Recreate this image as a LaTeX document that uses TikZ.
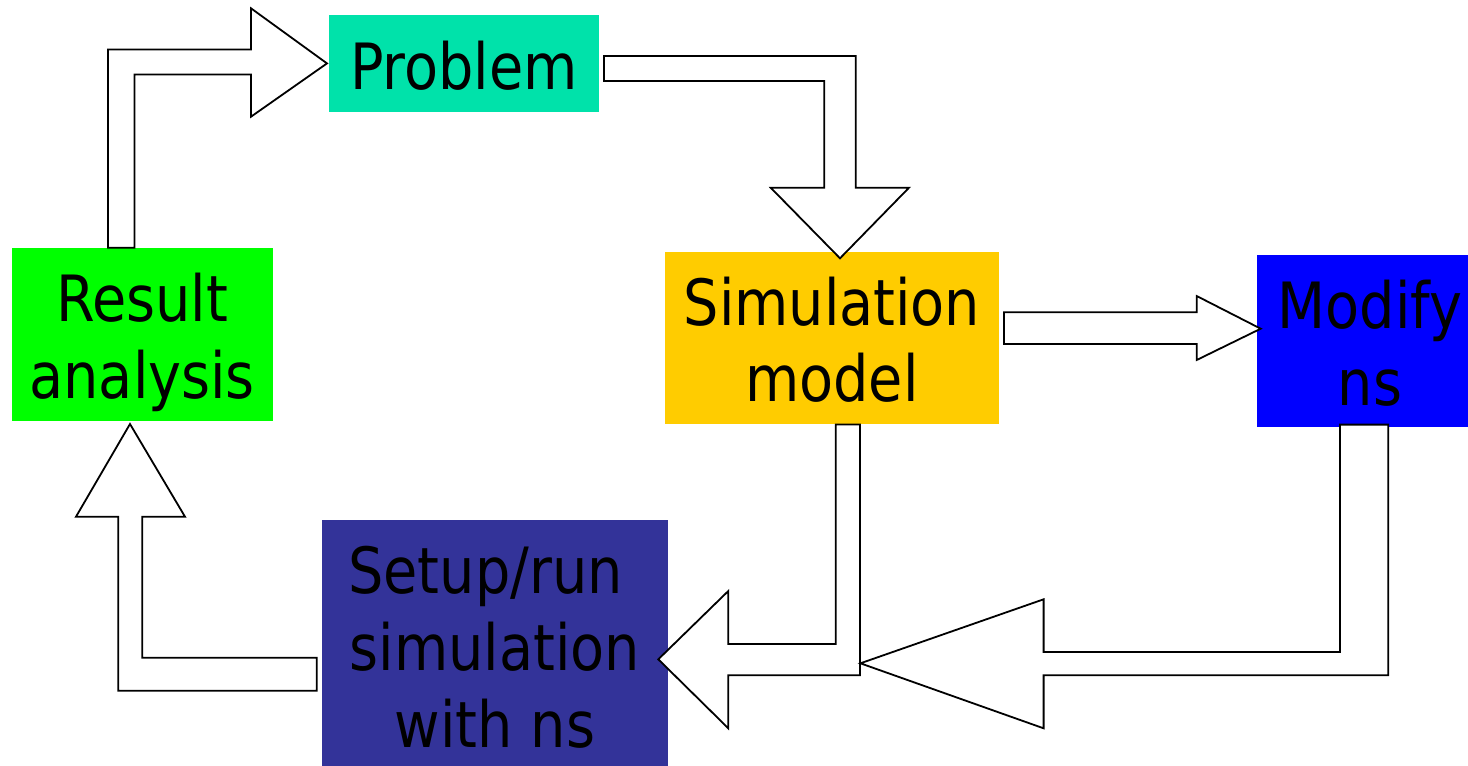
\documentclass[tikz,border=0pt]{standalone}
\usepackage{fontspec}
\setmainfont[FakeStretch=0.97]{DejaVu Sans Condensed}
\usepackage{tikz}
\usetikzlibrary{shapes,arrows}

\definecolor{ProbCol}{RGB}{0,226,170}
\definecolor{ResCol}{RGB}{0,255,0}
\definecolor{SimCol}{RGB}{255,204,0}
\definecolor{ModCol}{RGB}{0,0,255}
\definecolor{RunCol}{RGB}{51,51,153}

% first line high, last line low, so the text sits as in the slide
\newcommand{\linehigh}{\rule{0pt}{66.2pt}}
\newcommand{\linelow}{\rule[-15pt]{0pt}{15pt}}

\begin{document}
\begin{tikzpicture}[x=1pt, y=-1pt]
			\tikzstyle{Box}		= [rectangle, inner sep=0pt, align=center, font=\fontsize{63.8pt}{76.7pt}\selectfont]
			\tikzstyle{Block}	= [draw=black, fill=white, line width=1.8pt, line join=miter]
			\tikzstyle{Prob}	= [fill=ProbCol, minimum width=269.7pt, minimum height=96.7pt]
			\tikzstyle{Res}		= [fill=ResCol, minimum width=260.7pt, minimum height=173pt]
			\tikzstyle{Sim}		= [fill=SimCol, minimum width=334pt, minimum height=172.6pt]
			\tikzstyle{Mod}		= [fill=ModCol, minimum width=225.4pt, minimum height=172.3pt]
			\tikzstyle{Run}		= [fill=RunCol, minimum width=345.4pt, minimum height=250pt]

			\useasboundingbox (0,0) rectangle (1468,766);

			\node (prob) at (464, 63.4) [Box][Prob] {\linehigh Problem\linelow};
			\node (res) at (142.3, 334.5) [Box][Res] {\linehigh Result\\analysis\linelow};
			\node (sim) at (832, 338) [Box][Sim] {\linehigh Simulation\\model\linelow};
			\node (mod) at (1370, 341.2) [Box][Mod] {\linehigh Modify\\ns\linelow};
			\node (run) at (495, 645) [Box][Run] {\linehigh Setup/run\hspace*{19pt}\\simulation\hspace*{19pt}\\with ns\linelow};

			% result -> problem
			\draw [Block] (108,0 |- res.north) -- (108,49.5) -- (251,49.5) -- (251,8.3) -- (327,63.4) -- (251,116.7) -- (251,74.5) -- (134.5,74.5) -- (134.5,0 |- res.north) -- cycle;
			% problem -> simulation model
			\draw [Block] (604,56) -- (855.7,56) -- (855.7,187.7) -- (909,187.7) -- (840,258.3) -- (770.7,187.7) -- (824.3,187.7) -- (824.3,81) -- (604,81) -- cycle;
			% simulation model -> modify ns
			\draw [Block] (1004,312.3) -- (1196.7,312.3) -- (1196.7,296) -- (1260.7,328.7) -- (1196.7,360) -- (1196.7,344) -- (1004,344) -- cycle;
			% simulation model -> setup/run
			\draw [Block] (835.7,0 |- sim.south) -- (860,0 |- sim.south) -- (860,675.3) -- (728.3,675.3) -- (728.3,728.3) -- (658.3,659.3) -- (728.3,591) -- (728.3,644) -- (835.7,644) -- cycle;
			% modify ns -> setup/run
			\draw [Block] (1340,424.6) -- (1388.2,424.6) -- (1388.2,675.3) -- (1043.6,675.3) -- (1043.6,728.3) -- (860.4,663.3) -- (1043.6,599.3) -- (1043.6,652) -- (1340,652) -- cycle;
			% setup/run -> result
			\draw [Block] (316.7,657.7) -- (142.3,657.7) -- (142.3,516.7) -- (185,516.7) -- (130,424) -- (76,516.7) -- (118.3,516.7) -- (118.3,690.7) -- (316.7,690.7) -- cycle;
\end{tikzpicture}
\end{document}
